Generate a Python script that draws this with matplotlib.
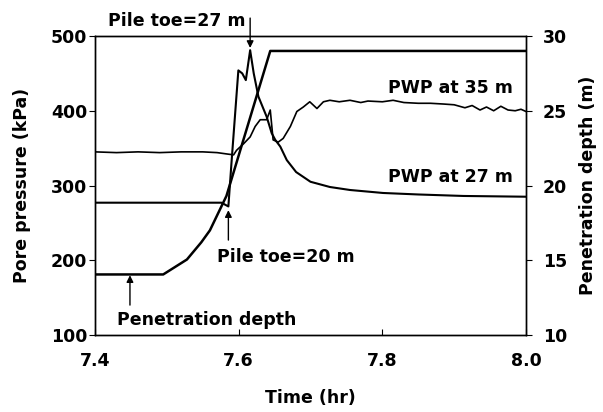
import matplotlib
matplotlib.use("Agg")
import matplotlib.pyplot as plt

plt.rcParams['font.family'] = ['DejaVu Sans']
plt.rcParams['font.weight'] = 'bold'
FS = 12.5

# PWP at 35 m (kPa)
t35 = [7.40, 7.43, 7.46, 7.49, 7.52, 7.55, 7.57, 7.585, 7.593, 7.597, 7.607,
       7.616, 7.623, 7.630, 7.639, 7.644, 7.648, 7.655, 7.662, 7.672, 7.681,
       7.690, 7.699, 7.709, 7.718, 7.727, 7.74, 7.755, 7.77, 7.78, 7.80,
       7.815, 7.83, 7.85, 7.867, 7.885, 7.90, 7.915, 7.925, 7.936, 7.945,
       7.955, 7.965, 7.975, 7.985, 7.993, 8.0]
p35 = [345, 344, 345, 344, 345, 345, 344, 342, 341, 347, 356,
       365, 379, 388, 388, 401, 361, 358, 363, 379, 399,
       405, 412, 403, 412, 414, 412, 414, 411, 413, 412,
       414, 411, 410, 410, 409, 408, 404, 407, 401, 405,
       400, 406, 401, 400, 402, 399]

# PWP at 27 m (kPa)
t27 = [7.40, 7.50, 7.576, 7.5857, 7.590, 7.5996, 7.605, 7.610, 7.616,
       7.621, 7.6275, 7.639, 7.646, 7.651, 7.658, 7.667, 7.68, 7.70,
       7.727, 7.755, 7.801, 7.85, 7.913, 8.0]
p27 = [277, 277, 277, 272, 330, 454, 450, 441, 481,
       450, 419, 392, 370, 361, 352, 334, 318, 305,
       298, 294, 290, 288, 286, 285]

# penetration depth (m)
tdep = [7.40, 7.495, 7.528, 7.548, 7.560, 7.572, 7.583, 7.600, 7.644, 8.0]
dep = [14.05, 14.05, 15.05, 16.2, 17.0, 18.2, 19.3, 22.0, 29.0, 29.0]

fig = plt.figure(figsize=(6.03, 4.12), dpi=100)
ax = fig.add_axes([0.1575, 0.1869, 0.7148, 0.7257])
ax.plot(t35, p35, 'k-', lw=1.2)
ax.plot(t27, p27, 'k-', lw=1.5)
ax.set_xlim(7.4, 8.0)
ax.set_ylim(100, 500)
ax.set_xticks([7.4, 7.6, 7.8, 8.0])
ax.set_xticklabels(['7.4', '7.6', '7.8', '8.0'])
ax.set_yticks([100, 200, 300, 400, 500])
ax.tick_params(axis='x', direction='in', length=4, pad=12, labelsize=FS, top=False)
ax.tick_params(axis='y', direction='out', length=4, pad=1.5, labelsize=FS)
ax.set_xlabel('Time (hr)', fontsize=FS, fontweight='bold', va='center')
ax.xaxis.set_label_coords(0.5, (335 - 398) / 299)
ax.set_ylabel('Pore pressure (kPa)', fontsize=FS, fontweight='bold', va='center', ha='center')
ax.yaxis.set_label_coords((22 - 95) / 431, 0.5)

ax2 = ax.twinx()
ax2.plot(tdep, dep, 'k-', lw=1.8)
ax2.set_ylim(10, 30)
ax2.set_yticks([10, 15, 20, 25, 30])
ax2.tick_params(axis='y', direction='out', length=4, pad=8, labelsize=FS)
ax2.set_ylabel('Penetration depth (m)', fontsize=FS, fontweight='bold', va='center', ha='center')
ax2.yaxis.set_label_coords((588 - 95) / 431, 0.5)

for a in (ax, ax2):
    for s in a.spines.values():
        s.set_linewidth(1.0)

arrow = dict(arrowstyle='-|>', color='k', lw=1, mutation_scale=10, shrinkA=0, shrinkB=0)

# annotations
ax.annotate('', xy=(7.616, 484), xytext=(7.616, 524), annotation_clip=False,
            arrowprops=arrow)
ax.text(7.609, 520, 'Pile toe=27 m', ha='right', va='center', fontsize=FS,
        fontweight='bold', clip_on=False)
ax.annotate('', xy=(7.5857, 267), xytext=(7.5857, 227), arrowprops=arrow)
ax.text(7.570, 204, 'Pile toe=20 m', ha='left', va='center', fontsize=FS, fontweight='bold')
ax.annotate('', xy=(7.4487, 180), xytext=(7.4487, 140), arrowprops=arrow)
ax.text(7.430, 120, 'Penetration depth', ha='left', va='center', fontsize=FS, fontweight='bold')
ax.text(7.982, 430, 'PWP at 35 m', ha='right', va='center', fontsize=FS, fontweight='bold')
ax.text(7.982, 312, 'PWP at 27 m', ha='right', va='center', fontsize=FS, fontweight='bold')

fig.savefig('out.png', dpi=100)
